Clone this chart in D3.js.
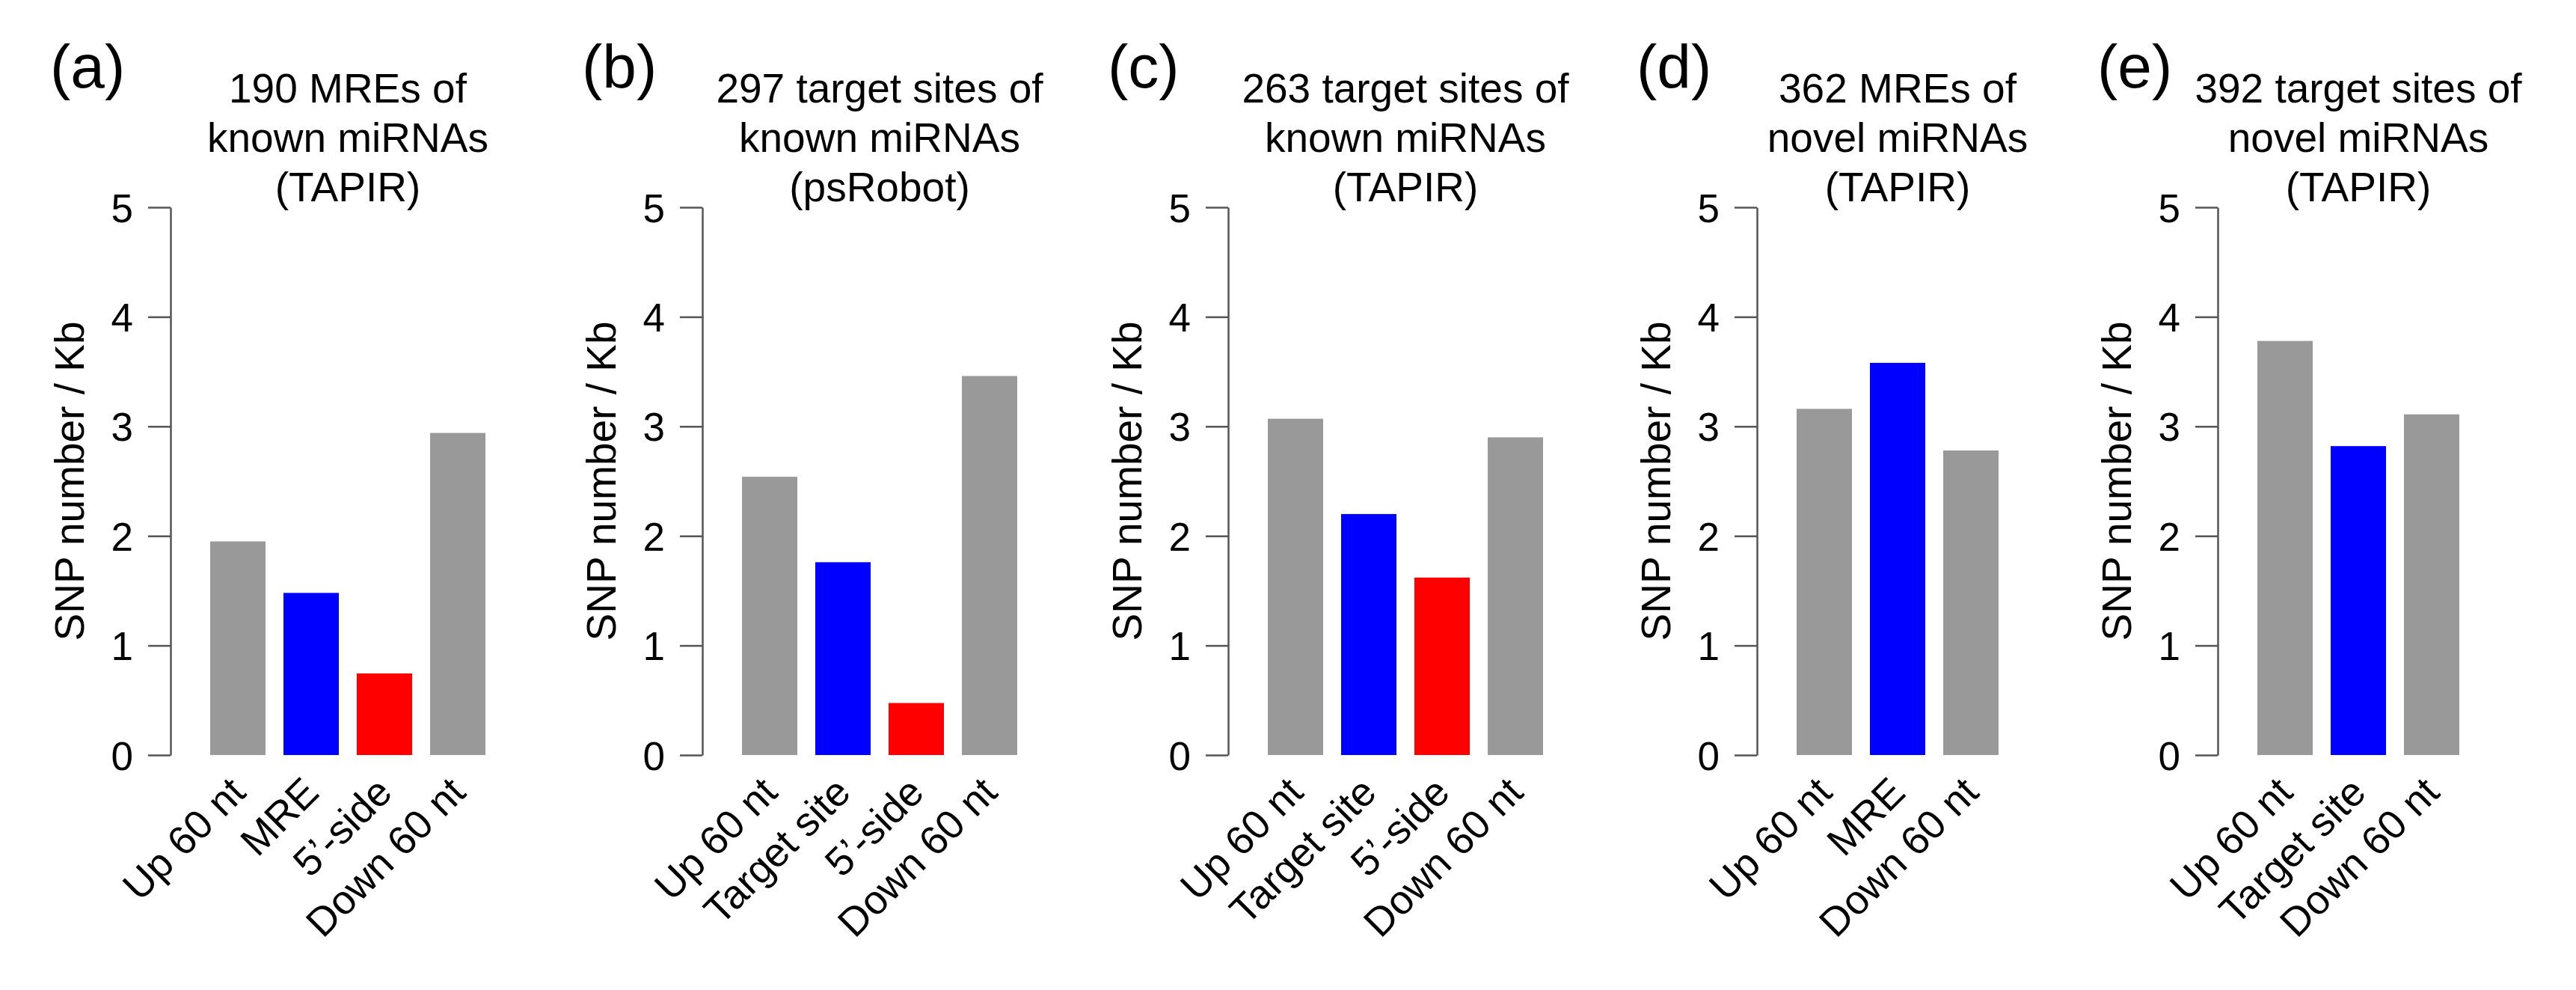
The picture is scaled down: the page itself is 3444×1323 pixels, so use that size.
<!DOCTYPE html>
<html>
<head>
<meta charset="utf-8">
<script src="https://cdn.jsdelivr.net/npm/d3@7"></script>
<style>
  html, body { margin: 0; padding: 0; background: #fff; }
  svg { display: block; }
  text { font-family: "Liberation Sans", Arial, Helvetica, sans-serif; fill: #000; }
</style>
</head>
<body>
<svg id="chart" width="3444" height="1323"></svg>
<script>
// ---- data ----
const panelLabels = ["(a)", "(b)", "(c)", "(d)", "(e)"];
const titleLines = [
  ["190 MREs of", "known miRNAs", "(TAPIR)"],
  ["297 target sites of", "known miRNAs", "(psRobot)"],
  ["263 target sites of", "known miRNAs", "(TAPIR)"],
  ["362 MREs of", "novel miRNAs", "(TAPIR)"],
  ["392 target sites of", "novel miRNAs", "(TAPIR)"]
];
const categoriesA = ["Up 60 nt", "MRE", "5\u2019-side", "Down 60 nt"];
const categoriesB = ["Up 60 nt", "Target site", "5\u2019-side", "Down 60 nt"];
const categoriesC = ["Up 60 nt", "Target site", "5\u2019-side", "Down 60 nt"];
const categoriesD = ["Up 60 nt", "MRE", "Down 60 nt"];
const categoriesE = ["Up 60 nt", "Target site", "Down 60 nt"];
const valuesA = [1.95, 1.48, 0.745, 2.94];
const valuesB = [2.54, 1.76, 0.475, 3.46];
const valuesC = [3.07, 2.20, 1.62, 2.90];
const valuesD = [3.16, 3.58, 2.78];
const valuesE = [3.78, 2.82, 3.11];
const barKindsA = ["flank", "site", "side", "flank"];
const barKindsB = ["flank", "site", "side", "flank"];
const barKindsC = ["flank", "site", "side", "flank"];
const barKindsD = ["flank", "site", "flank"];
const barKindsE = ["flank", "site", "flank"];
const yTicks = [0, 1, 2, 3, 4, 5];
const yLabel = "SNP number / Kb";

// ---- layout / style ----
const kindColor = { flank: "#999999", site: "#0000ff", side: "#ff0000" };
const axisXs = [228, 939, 1642, 2349, 2965];
const yTop = 277, yBottom = 1009;
const barStep = 98, barWidth = 74, firstBarOffset = 53;

const panels = [
  { cats: categoriesA, vals: valuesA, kinds: barKindsA },
  { cats: categoriesB, vals: valuesB, kinds: barKindsB },
  { cats: categoriesC, vals: valuesC, kinds: barKindsC },
  { cats: categoriesD, vals: valuesD, kinds: barKindsD },
  { cats: categoriesE, vals: valuesE, kinds: barKindsE }
];

const svg = d3.select("#chart");
const y = d3.scaleLinear().domain([0, 5]).range([yBottom, yTop]);

panels.forEach((p, i) => {
  const ax = axisXs[i];
  const n = p.cats.length;
  const x0 = ax + firstBarOffset;
  const x1 = x0 + n * barStep - (barStep - barWidth);
  const x = d3.scaleBand()
    .domain(p.cats)
    .range([x0, x1])
    .paddingInner((barStep - barWidth) / barStep)
    .paddingOuter(0);

  const g = svg.append("g");

  // bars
  g.selectAll("rect.bar")
    .data(p.cats.map((c, k) => ({ c, v: p.vals[k], kind: p.kinds[k] })))
    .join("rect")
    .attr("class", "bar")
    .attr("x", d => x(d.c))
    .attr("width", x.bandwidth())
    .attr("y", d => y(d.v))
    .attr("height", d => y(0) - y(d.v))
    .attr("fill", d => kindColor[d.kind]);

  // y axis
  const axis = d3.axisLeft(y)
    .tickValues(yTicks)
    .tickFormat(d3.format("d"))
    .tickSizeInner(30)
    .tickSizeOuter(0)
    .tickPadding(20);
  const ag = g.append("g")
    .attr("transform", `translate(${ax},0)`)
    .call(axis);
  ag.select(".domain").attr("stroke", "#555").attr("stroke-width", 2.5);
  ag.selectAll(".tick line").attr("stroke", "#555").attr("stroke-width", 2.5);
  ag.selectAll(".tick text")
    .attr("font-size", 53)
    .attr("fill", "#000")
    .attr("dy", "0.36em")
    .style("font-family", "'Liberation Sans', Arial, sans-serif");

  // y label
  g.append("text")
    .attr("transform", `translate(${ax - 116},${(yTop + yBottom) / 2}) rotate(-90)`)
    .attr("text-anchor", "middle")
    .attr("font-size", 55)
    .text(yLabel);

  // x category labels, rotated 45deg
  g.selectAll("text.xlab")
    .data(p.cats)
    .join("text")
    .attr("class", "xlab")
    .attr("transform", d => `translate(${x(d) + x.bandwidth() / 2 + 13},${yBottom + 53}) rotate(-45)`)
    .attr("text-anchor", "end")
    .attr("font-size", 54)
    .text(d => d);

  // title
  const tcx = (x0 + x1) / 2;
  g.selectAll("text.title")
    .data(titleLines[i])
    .join("text")
    .attr("class", "title")
    .attr("x", tcx)
    .attr("y", (d, k) => 137 + k * 66)
    .attr("text-anchor", "middle")
    .attr("font-size", 55)
    .text(d => d);

  // panel label
  g.append("text")
    .attr("x", ax - 161)
    .attr("y", 117)
    .attr("font-size", 82)
    .text(panelLabels[i]);
});
</script>
</body>
</html>
